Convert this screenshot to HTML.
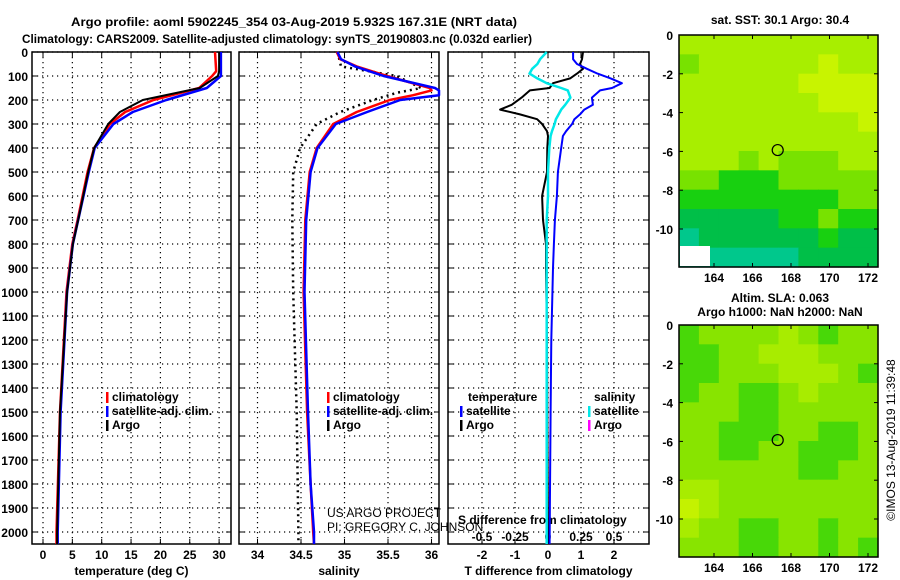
<!DOCTYPE html>
<html><head><meta charset="utf-8"><style>
html,body{margin:0;padding:0;background:#fff}
svg{display:block}
text{font-family:"Liberation Sans",sans-serif;font-weight:bold;font-size:12px;fill:#000}
text.thin{font-weight:normal}
</style></head><body>
<svg id="fig" width="900" height="580" xmlns="http://www.w3.org/2000/svg">
<text x="71" y="26" textLength="446" lengthAdjust="spacingAndGlyphs" font-size="13">Argo profile: aoml 5902245_354 03-Aug-2019 5.932S 167.31E (NRT data)</text>
<text x="22" y="43" textLength="510" lengthAdjust="spacingAndGlyphs" font-size="13">Climatology: CARS2009. Satellite-adjusted climatology: synTS_20190803.nc (0.032d earlier)</text>
<g id="g1"></g>
<g id="g2"></g>
<g id="g3"></g>
<g id="m1"></g>
<g id="m2"></g>
<text x="780" y="24" text-anchor="middle">sat. SST: 30.1 Argo: 30.4</text>
<text x="780" y="302" text-anchor="middle">Altim. SLA: 0.063</text>
<text x="780" y="316" text-anchor="middle">Argo h1000: NaN h2000: NaN</text>
<text class="thin" transform="translate(895,440) rotate(-90)" text-anchor="middle" font-size="12">©IMOS 13-Aug-2019 11:39:48</text>
<text class="thin" x="327" y="517" font-size="12">US ARGO PROJECT</text>
<text class="thin" x="327" y="531" font-size="12">PI: GREGORY C. JOHNSON</text>
</svg>
<script>
// ---- data ----
const depthTicks=[0,100,200,300,400,500,600,700,800,900,1000,1100,1200,1300,1400,1500,1600,1700,1800,1900,2000];
const tempTicks=[0,5,10,15,20,25,30];
const salTicks=[34,34.5,35,35.5,36];
const tdTicks=[-2,-1,0,1,2];
const sdTicks=[-0.5,-0.25,0,0.25,0.5];
const sdTickLabels=["-0.5","-0.25","0","0.25","0.5"];

const tDepth=[0,80,100,150,200,250,300,400,500,700,800,1000,1500,2000,2050];
const tArgo=[30.0,30.0,29.8,26.7,17.0,13.1,11.1,8.7,7.7,6.0,5.1,4.1,2.9,2.4,2.4];
const tClim=[29.3,29.5,28.8,26.6,18.8,14.0,11.4,8.7,7.6,5.9,5.0,4.0,2.9,2.3,2.3];
const tSat=[30.3,30.3,30.3,27.9,21.0,15.3,12.0,8.8,7.8,6.0,5.1,4.1,3.0,2.5,2.5];

const sDepth=[0,30,60,100,150,160,180,200,250,300,400,500,700,1000,1500,1800,2000,2050];
const sClim=[34.91,34.95,35.14,35.49,35.98,36.0,35.79,35.52,35.14,34.87,34.68,34.60,34.55,34.53,34.57,34.61,34.64,34.65];
const sSat=[34.92,34.96,35.12,35.45,36.04,36.1,36.1,35.64,35.26,34.90,34.69,34.61,34.56,34.54,34.58,34.61,34.65,34.65];
const sArgoDepth=[0,30,60,100,150,170,200,250,300,400,500,700,1000,1500,2000,2050];
const sArgo=[34.92,34.94,34.96,35.60,35.88,35.60,35.33,34.95,34.68,34.49,34.41,34.40,34.41,34.45,34.47,34.47];

const dDepth=[0,30,50,70,90,110,130,150,160,190,220,240,260,280,300,330,350,400,500,600,700,800,900,1200,1500,2050];
const tdArgo=[1.06,1.03,0.97,1.06,0.88,0.67,0.15,0.05,-0.55,-0.8,-1.1,-1.45,-0.85,-0.33,-0.18,-0.03,0,-0.02,-0.03,-0.18,-0.15,-0.06,-0.06,-0.03,-0.02,0];
const tdSat=[0.76,0.76,0.88,1.18,1.5,1.9,2.24,1.94,1.58,1.33,1.36,1.1,0.97,0.8,0.73,0.55,0.45,0.4,0.3,0.27,0.21,0.18,0.15,0.1,0.08,0.05];
const sdSat=[-0.01,-0.06,-0.08,-0.12,-0.14,-0.08,-0.01,0.1,0.15,0.17,0.13,0.1,0.08,0.06,0.05,0.03,0.02,0.01,0,0,-0.01,-0.01,-0.01,-0.01,-0.01,-0.01];

const sstGrid=[
[4,4,4,4,4,4,4,4,4,4],[3,4,4,4,4,4,4,5,4,4],[4,4,4,4,4,4,5,5,5,5],[4,4,4,4,4,4,4,5,5,5],
[4,4,4,4,4,4,4,4,4,5],[4,4,4,4,4,4,4,4,4,4],[4,4,4,3,4,3,3,3,4,4],[3,3,2,2,2,3,3,3,3,3],
[2,2,2,2,2,2,2,2,3,3],[1,1,1,1,1,2,2,3,2,2],[0,1,1,1,1,1,1,2,1,1],[0,0,0,0,0,0,1,1,1,1]];
const slaGrid=[
[2,3,3,3,3,4,3,2,3,3],[2,2,3,3,4,4,4,3,3,3],[2,2,3,3,3,4,4,4,3,2],[2,3,3,2,2,3,4,3,3,3],
[3,3,3,2,2,3,3,3,3,3],[3,3,2,2,2,3,3,2,2,3],[3,3,2,2,3,3,2,2,2,3],[3,3,3,3,3,3,2,2,3,3],
[4,4,3,3,3,3,3,3,3,3],[5,4,3,3,3,3,3,3,3,3],[4,3,3,2,2,3,3,2,3,3],[3,3,3,2,2,3,3,2,3,2]];
const lonTicks=[164,166,168,170,172];
const latTicks=[0,-2,-4,-6,-8,-10];
const floatLon=167.31, floatLat=-5.932;

// ---- helpers ----
const NS="http://www.w3.org/2000/svg";
function mk(tag,attrs,parent,txt){const e=document.createElementNS(NS,tag);for(const k in attrs)e.setAttribute(k,attrs[k]);if(txt!==undefined)e.textContent=txt;parent.appendChild(e);return e;}
const TOP=52,BOT=544;
const yD=d=>TOP+d*0.24;

function panel(g,L,R,xs,ticks,labels,showY,xlabel,nameBase){
  for(const d of depthTicks){const y=yD(d);
    const gl=mk('line',{x1:L,x2:R,y1:y,y2:y,stroke:'#000','stroke-width':1.2,'stroke-dasharray':'1.2 3.8'},g);
    
    mk('line',{x1:L,x2:L+5,y1:y,y2:y,stroke:'#000'},g);mk('line',{x1:R-5,x2:R,y1:y,y2:y,stroke:'#000'},g);
    if(showY){const t=mk('text',{x:L-4,y:y+5,'text-anchor':'end'},g,String(d));
      }
  }
  ticks.forEach((v,i)=>{const x=xs(v);
    const gl=mk('line',{x1:x,x2:x,y1:TOP,y2:BOT,stroke:'#000','stroke-width':1.2,'stroke-dasharray':'1.2 3.8'},g);
    
    mk('line',{x1:x,x2:x,y1:TOP,y2:TOP+5,stroke:'#000'},g);mk('line',{x1:x,x2:x,y1:BOT-5,y2:BOT,stroke:'#000'},g);
    if(labels){const t=mk('text',{x:x,y:BOT+15,'text-anchor':'middle'},g,labels[i]);
      }
  });
  const fr=mk('rect',{x:L,y:TOP,width:R-L,height:BOT-TOP,fill:'none',stroke:'#000','stroke-width':1.5},g);
  
  const xl=mk('text',{x:(L+R)/2,y:575,'text-anchor':'middle'},g,xlabel);
  
}
function line(g,depths,vals,xs,col,w,dash,name,L,R){
  const pts=depths.map((d,i)=>{let x=xs(vals[i]);x=Math.max(L,Math.min(R,x));return x.toFixed(1)+','+yD(d).toFixed(1);}).join(' ');
  const p=mk('polyline',{points:pts,fill:'none',stroke:col,'stroke-width':w,'stroke-linejoin':'round'},g);
  if(dash)p.setAttribute('stroke-dasharray',dash);
  
}
function legend(g,x,y,items){items.forEach((it,i)=>{const yy=y+i*14;
  mk('rect',{x:x,y:yy-9,width:2.5,height:11,fill:it[1]},g);
  const t=mk('text',{x:x+6,y:yy},g,it[0]);
  });}

// panel 1 temperature
const g1=document.getElementById('g1');
const xT=v=>43+v*5.87;
panel(g1,32,231,xT,tempTicks,tempTicks.map(String),true,'temperature (deg C)','temperature');
line(g1,tDepth,tClim,xT,'#ff0000',2.5,null,'climatology-temperature-line',32,231);
line(g1,tDepth,tSat,xT,'#0000ff',2.5,null,'satellite-temperature-line',32,231);
line(g1,tDepth,tArgo,xT,'#000',2,null,'argo-temperature-line',32,231);
legend(g1,106,401,[['climatology','#ff0000','climatology'],['satellite-adj. clim.','#0000ff','satellite'],['Argo','#000','argo']]);

// panel 2 salinity
const g2=document.getElementById('g2');
const xS=v=>301+(v-34.5)*87;
panel(g2,239,439,xS,salTicks,salTicks.map(String),false,'salinity','salinity');
line(g2,sArgoDepth,sArgo,xS,'#000',2.5,'2 4','argo-salinity-line',239,439);
line(g2,sDepth,sClim,xS,'#ff0000',2.5,null,'climatology-salinity-line',239,439);
line(g2,sDepth,sSat,xS,'#0000ff',2.5,null,'satellite-salinity-line',239,439);
legend(g2,327,401,[['climatology','#ff0000','climatology'],['satellite-adj. clim.','#0000ff','satellite'],['Argo','#000','argo']]);

// panel 3 differences
const g3=document.getElementById('g3');
const xTD=v=>548+v*33, xSD=v=>548+v*132;
panel(g3,448,649,xTD,tdTicks,tdTicks.map(String),false,'T difference from climatology','t-difference');
sdTicks.forEach((v,i)=>{const t=mk('text',{x:xSD(v),y:541,'text-anchor':'middle'},g3,sdTickLabels[i]);
  });
const sdt=mk('text',{x:458,y:524},g3,'S difference from climatology');

line(g3,dDepth,tdArgo,xTD,'#000',2,null,'argo-t-difference-line',448,649);
line(g3,dDepth,tdSat,xTD,'#0000ff',2,null,'satellite-t-difference-line',448,649);
line(g3,dDepth,sdSat,xSD,'#00e8e8',2.5,null,'satellite-s-difference-line',448,649);
const lt=mk('text',{x:468,y:401},g3,'temperature');
const ls=mk('text',{x:594,y:401},g3,'salinity');
legend(g3,460,415,[['satellite','#0000ff','t-satellite'],['Argo','#000','t-argo']]);
legend(g3,588,415,[['satellite','#00e8e8','s-satellite'],['Argo','#ff00ff','s-argo']]);

// maps
function map(id,grid,pal,top){
  const g=document.getElementById(id);const L=679,R=878,H=232;const B=top+H;
  const lonX=l=>714+(l-164)*19.25, latY=la=>top+(-la)*19.4;
  const rows=grid.length,cols=grid[0].length,cw=(R-L)/cols,ch=H/rows;
  grid.forEach((row,r)=>row.forEach((v,c)=>{
    const cell=mk('rect',{x:(L+c*cw).toFixed(2),y:(top+r*ch).toFixed(2),width:(cw+0.6).toFixed(2),height:(ch+0.6).toFixed(2),fill:pal[v]},g);
    }));
  lonTicks.forEach(l=>{const x=lonX(l);mk('line',{x1:x,x2:x,y1:top,y2:top+4,stroke:'#000'},g);mk('line',{x1:x,x2:x,y1:B-4,y2:B,stroke:'#000'},g);
    const t=mk('text',{x:x,y:B+15,'text-anchor':'middle'},g,String(l));});
  latTicks.forEach(la=>{const y=latY(la);mk('line',{x1:L,x2:L+4,y1:y,y2:y,stroke:'#000'},g);mk('line',{x1:R-4,x2:R,y1:y,y2:y,stroke:'#000'},g);
    const t=mk('text',{x:L-6,y:y+5,'text-anchor':'end'},g,String(la));});
  const f=mk('rect',{x:L,y:top,width:R-L,height:H,fill:'none',stroke:'#000','stroke-width':1.5},g);
  
  const c=mk('circle',{cx:lonX(floatLon),cy:latY(floatLat),r:5.5,fill:'none',stroke:'#000','stroke-width':1.2},g);
  
  return g;
}
const gm1=map('m1',sstGrid,['#00c88c','#00bf48','#18d010','#78e200','#a8ee00','#c8f400'],35);
const nd=mk('rect',{x:680,y:246,width:30,height:20,fill:'#fff'},gm1);

map('m2',slaGrid,['#00c88c','#10c810','#48d808','#88e400','#a8ec00','#c4f200'],325);
</script>
</body></html>
